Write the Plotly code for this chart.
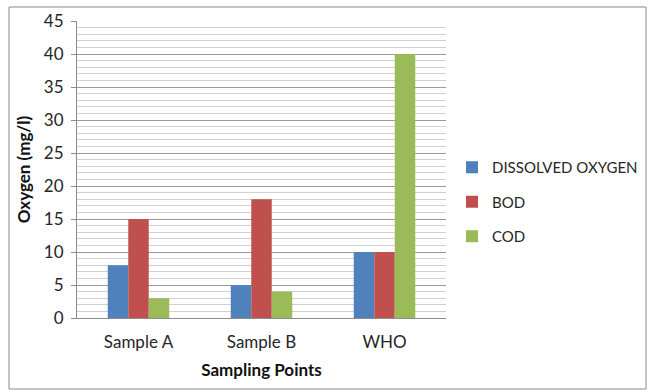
import plotly.graph_objects as go

# Sampling points and measured oxygen parameters (mg/l)
sampling_points = ["Sample A", "Sample B", "WHO"]
dissolved_oxygen = [8, 5, 10]
bod = [15, 18, 10]
cod = [3, 4, 40]

series = [
    ("DISSOLVED OXYGEN", dissolved_oxygen, "#4F81BD"),
    ("BOD", bod, "#C0504D"),
    ("COD", cod, "#9BBB59"),
]

FONT = "Lato, Liberation Sans, sans-serif"
TEXT = "#262626"

fig = go.Figure()
for name, vals, color in series:
    fig.add_trace(go.Bar(
        x=sampling_points, y=vals, name=name, legendgroup=name,
        marker=dict(color=color, line=dict(width=0)),
    ))

# plot area geometry in pixels
W, H = 648, 392
L, R, T, B = 77, 446, 21, 318
pw, ph = R - L, B - T

def px_x(x):
    return (x - L) / pw

def px_y(y):
    return (B - y) / ph

fig.update_layout(
    width=W, height=H,
    margin=dict(l=L, r=W - R, t=T, b=H - B, autoexpand=False),
    paper_bgcolor="white", plot_bgcolor="white",
    barmode="group", bargap=0.5, bargroupgap=0,
    font=dict(family=FONT, size=17, color=TEXT),
    showlegend=True,
    legend=dict(
        x=px_x(452), y=px_y(202), xanchor="left", yanchor="middle",
        font=dict(family=FONT, size=15, color=TEXT),
        tracegroupgap=12, itemwidth=30,
        bgcolor="rgba(0,0,0,0)",
    ),
    xaxis=dict(
        showline=True, linecolor="#8c8c8c", linewidth=1,
        ticks="", ticklabelstandoff=9, automargin=False,
        title=dict(text="<b>Sampling Points</b>", standoff=12,
                   font=dict(family=FONT, size=17, color="#111111")),
        showgrid=False,
    ),
    yaxis=dict(
        range=[0, 45], dtick=5, tick0=0, automargin=False,
        showline=True, linecolor="#8c8c8c", linewidth=1,
        ticks="outside", ticklen=5, tickcolor="#8c8c8c",
        ticklabelstandoff=4,
        showgrid=True, gridcolor="#9a9a9a", gridwidth=1,
        zeroline=False,
        minor=dict(dtick=1, showgrid=True, gridcolor="#d0d0d0", gridwidth=1, ticks=""),
        title=dict(text="<b>Oxygen (mg/l)</b>", standoff=8,
                   font=dict(family=FONT, size=17, color="#111111")),
    ),
    shapes=[dict(
        type="rect", xref="paper", yref="paper",
        x0=px_x(9), x1=px_x(646), y0=px_y(389), y1=px_y(7),
        line=dict(color="#8a8a8a", width=1), fillcolor="rgba(0,0,0,0)",
        layer="below",
    )],
)

fig.write_html("out.html")
